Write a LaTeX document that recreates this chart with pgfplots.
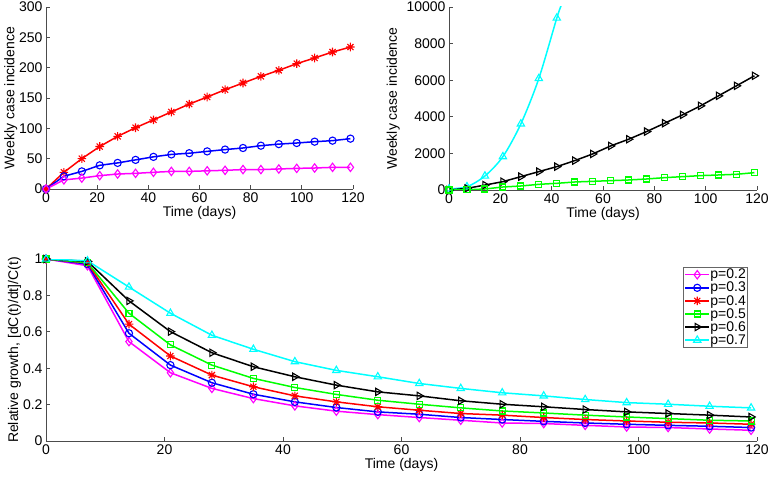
\documentclass[border=0pt]{standalone}
\usepackage{fontspec}
\setmainfont{Liberation Sans}
\usepackage{pgfplots}
\pgfplotsset{compat=1.18}

\definecolor{mmag}{rgb}{1,0,1}
\definecolor{mblue}{rgb}{0,0,1}
\definecolor{mred}{rgb}{1,0,0}
\definecolor{mgreen}{rgb}{0,1,0}
\definecolor{mcyan}{rgb}{0,1,1}

% MATLAB-like '*' marker: plus and cross together
\pgfdeclareplotmark{mstar}{%
  \pgfpathmoveto{\pgfqpoint{-\pgfplotmarksize}{0pt}}\pgfpathlineto{\pgfqpoint{\pgfplotmarksize}{0pt}}%
  \pgfpathmoveto{\pgfqpoint{0pt}{-\pgfplotmarksize}}\pgfpathlineto{\pgfqpoint{0pt}{\pgfplotmarksize}}%
  \pgfpathmoveto{\pgfqpoint{-0.707\pgfplotmarksize}{-0.707\pgfplotmarksize}}\pgfpathlineto{\pgfqpoint{0.707\pgfplotmarksize}{0.707\pgfplotmarksize}}%
  \pgfpathmoveto{\pgfqpoint{-0.707\pgfplotmarksize}{0.707\pgfplotmarksize}}\pgfpathlineto{\pgfqpoint{0.707\pgfplotmarksize}{-0.707\pgfplotmarksize}}%
  \pgfusepathqstroke}

\pgfplotsset{
  mat/.style={
    scale only axis, anchor=south west,
    axis x line*=bottom, axis y line*=left,
    tick align=inside, major tick length=4pt,
    axis line style={black!70, line width=0.7pt},
    tick style={black!70, line width=0.7pt},
    xmin=0, xmax=120, xtick={0,20,...,120},
    tick label style={font=\fontsize{14}{14}\selectfont},
    label style={font=\fontsize{14}{14}\selectfont},
    xlabel style={yshift=3pt},
    /pgf/number format/assume math mode=true,
    /pgf/number format/1000 sep={},
    every axis plot/.append style={line width=1.5pt},
  },
  p2/.style={mmag, mark=diamond, mark size=4.2pt, mark options={solid, line width=1.1pt}},
  p3/.style={mblue, mark=o, mark size=3.6pt, mark options={solid, line width=1.1pt}},
  p4/.style={mred, mark=mstar, mark size=4.3pt, mark options={solid, line width=1.1pt}},
  p5/.style={mgreen, mark=square, mark size=3pt, mark options={solid, line width=1.1pt}},
  p6/.style={black, mark=triangle, mark size=4.2pt, mark options={solid, rotate=-90, line width=1.1pt}},
  p7/.style={mcyan, mark=triangle, mark size=4.2pt, mark options={solid, line width=1.1pt}},
}

\begin{document}
\begin{tikzpicture}
\useasboundingbox (0,0) rectangle (770pt,477pt);

% top left: p = 0.2, 0.3, 0.4
\begin{axis}[mat, at={(46pt,288pt)}, width=307pt, height=182pt,
    ymin=0, ymax=300, ytick={0,50,...,300},
    ylabel style={yshift=-5pt},
    xlabel={Time (days)}, ylabel={Weekly case incidence}]
\addplot[p4] coordinates {
 (0,0)(7,27.5)(14,50)(21,70)(28,86.8)(35,101)(42,114)(49,127)(56,140)
 (63,151.6)(70,163.7)(77,174.7)(84,185.7)(91,195.6)(98,206.6)(105,216)(112,225.8)(119,234)};
\addplot[p3] coordinates {
 (0,0)(7,21)(14,29)(21,39)(28,43)(35,48)(42,53)(49,57)(56,59)
 (63,62)(70,65)(77,67.6)(84,71.4)(91,74)(98,75.8)(105,78)(112,79.7)(119,83)};
\addplot[p2] coordinates {
 (0,0)(7,15)(14,18)(21,22)(28,24.7)(35,25.8)(42,27.5)(49,29)(56,29)
 (63,30)(70,30.8)(77,32)(84,32)(91,33)(98,34)(105,34.6)(112,35.7)(119,35.7)};
\end{axis}

% top right: p = 0.5, 0.6, 0.7
\begin{axis}[mat, at={(449pt,287pt)}, width=308pt, height=183pt,
    ymin=0, ymax=10000, ytick={0,2000,...,10000},
    scaled y ticks=false,
    xlabel={Time (days)}, ylabel={Weekly case incidence}]
\addplot[p7, smooth] coordinates {
 (0,60)(7,180)(14,766)(21,1825)(28,3613)(35,6095)(42,9398)(44,10185)};
\addplot[p6] coordinates {
 (0,0)(7,90)(14,270)(21,456)(28,730)(35,1004)(42,1277)(49,1606)(56,1971)
 (63,2409)(70,2774)(77,3193)(84,3650)(91,4106)(98,4599)(105,5146)(112,5693)(119,6241)};
\addplot[p5] coordinates {
 (0,0)(7,10)(14,55)(21,164)(28,219)(35,310)(42,365)(49,438)(56,474)
 (63,511)(70,547)(77,602)(84,675)(91,730)(98,785)(105,821)(112,858)(119,949)};
\end{axis}

% bottom: relative growth
\begin{axis}[mat, at={(46pt,36pt)}, width=711pt, height=182pt,
    ymin=0, ymax=1, ytick={0,0.2,...,1},
    yticklabel style={/pgf/number format/fixed},
    ylabel style={yshift=-5pt},
    xlabel={Time (days)}, ylabel={Relative growth, [dC(t)/dt]/C(t)},
    legend cell align=left,
    legend style={at={(0.987,0.955)}, anchor=north east, draw=black!60,
      font=\fontsize{14}{14}\selectfont, row sep=0.8pt, inner sep=1.2pt,
      nodes={inner sep=0.5pt}},
    legend image code/.code={\draw[mark repeat=2,mark phase=2]
      plot coordinates {(0cm,0cm)(0.42cm,0cm)(0.84cm,0cm)};}]
\addplot[p2] coordinates {
 (0,1)(7,0.963)(14,0.546)(21,0.375)(28,0.289)(35,0.233)(42,0.193)(49,0.164)(56,0.145)
 (63,0.129)(70,0.114)(77,0.099)(84,0.096)(91,0.086)(98,0.077)(105,0.074)(112,0.066)(119,0.059)};
\addplot[p3] coordinates {
 (0,1)(7,0.972)(14,0.592)(21,0.417)(28,0.320)(35,0.257)(42,0.215)(49,0.184)(56,0.160)
 (63,0.147)(70,0.129)(77,0.118)(84,0.108)(91,0.099)(98,0.092)(105,0.086)(112,0.081)(119,0.074)};
\addplot[p4] coordinates {
 (0,1)(7,0.978)(14,0.642)(21,0.467)(28,0.362)(35,0.298)(42,0.248)(49,0.215)(56,0.188)
 (63,0.169)(70,0.151)(77,0.142)(84,0.129)(91,0.118)(98,0.110)(105,0.103)(112,0.099)(119,0.092)};
\addplot[p5] coordinates {
 (0,1)(7,0.98)(14,0.702)(21,0.528)(28,0.417)(35,0.344)(42,0.294)(49,0.256)(56,0.224)
 (63,0.202)(70,0.182)(77,0.165)(84,0.154)(91,0.142)(98,0.132)(105,0.123)(112,0.114)(119,0.110)};
\addplot[p6] coordinates {
 (0,1)(7,0.987)(14,0.770)(21,0.601)(28,0.485)(35,0.408)(42,0.353)(49,0.307)(56,0.270)
 (63,0.248)(70,0.221)(77,0.202)(84,0.188)(91,0.173)(98,0.160)(105,0.151)(112,0.142)(119,0.132)};
\addplot[p7] coordinates {
 (0,1)(7,0.99)(14,0.846)(21,0.702)(28,0.581)(35,0.504)(42,0.436)(49,0.388)(56,0.353)
 (63,0.316)(70,0.289)(77,0.265)(84,0.248)(91,0.228)(98,0.211)(105,0.202)(112,0.191)(119,0.182)};
\legend{p=0.2,p=0.3,p=0.4,p=0.5,p=0.6,p=0.7}
\end{axis}
\end{tikzpicture}
\end{document}
